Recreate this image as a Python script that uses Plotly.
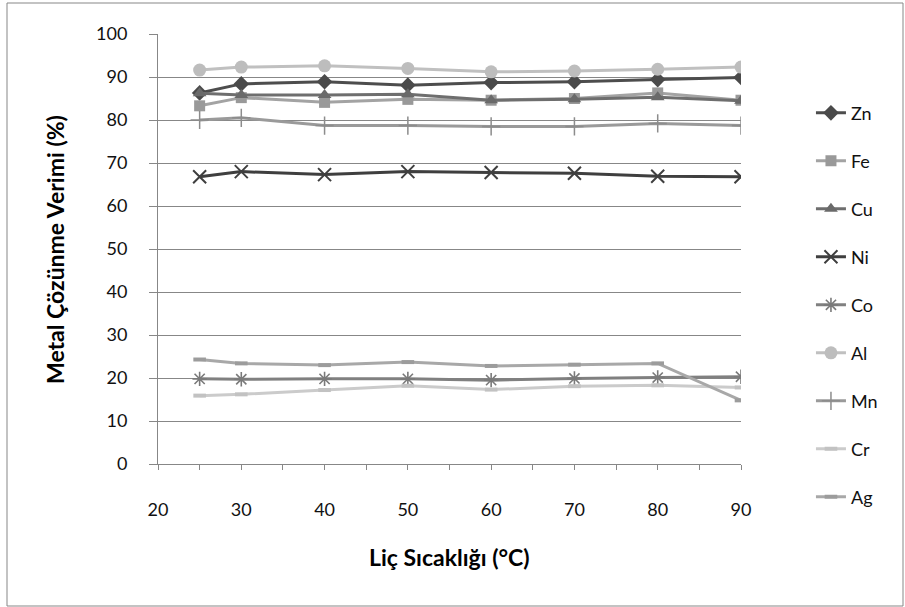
import plotly.graph_objects as go

# Leaching temperature (°C)
temperature = [25, 30, 40, 50, 60, 70, 80, 90]

# Metal dissolution efficiency (%) for each metal
zn = [86.3, 88.4, 88.9, 88.1, 88.7, 88.9, 89.4, 89.9]
fe = [83.3, 85.2, 84.1, 84.8, 84.6, 85.0, 86.3, 84.6]
cu = [86.2, 85.8, 85.8, 86.0, 84.6, 84.8, 85.3, 84.5]
ni = [66.8, 68.0, 67.3, 68.0, 67.8, 67.6, 66.9, 66.8]
co = [19.8, 19.7, 19.8, 19.8, 19.5, 19.9, 20.1, 20.3]
al = [91.6, 92.3, 92.6, 92.0, 91.2, 91.4, 91.8, 92.3]
mn = [80.0, 80.5, 78.7, 78.7, 78.5, 78.5, 79.2, 78.7]
cr = [15.9, 16.2, 17.2, 18.2, 17.3, 18.1, 18.3, 17.8]
ag = [24.3, 23.4, 23.0, 23.7, 22.8, 23.1, 23.4, 14.8]

series = [
    ("Zn", zn, "#4d4d4d", "#4a4a4a", "diamond", 12, 1),
    ("Fe", fe, "#a3a3a3", "#999999", "square", 11, 1),
    ("Cu", cu, "#6e6e6e", "#6a6a6a", "triangle-up", 12, 1),
    ("Ni", ni, "#3f3f3f", "#3f3f3f", "x-thin-open", 13, 2),
    ("Co", co, "#808080", "#7a7a7a", "asterisk-open", 12, 1.6),
    ("Al", al, "#c0c0c0", "#bdbdbd", "circle", 13, 1),
    ("Mn", mn, "#9a9a9a", "#8c8c8c", "cross-thin-open", 13, 1.5),
    ("Cr", cr, "#cbcbcb", "#c2c2c2", "line-ew-open", 9, 4),
    ("Ag", ag, "#a8a8a8", "#9c9c9c", "line-ew-open", 9, 4),
]

fig = go.Figure()
for name, vals, lcol, mcol, sym, msize, mlw in series:
    open_sym = sym.endswith("open")
    fig.add_trace(go.Scatter(
        x=temperature, y=vals, name=name, mode="lines+markers",
        legendgroup=name,
        line=dict(color=lcol, width=3),
        marker=dict(symbol=sym, size=msize, color=mcol,
                    line=dict(color=mcol, width=mlw if open_sym else 0)),
    ))

axis_col = "#878787"
font_family = "Lato, 'Open Sans', sans-serif"

fig.update_layout(
    width=905, height=607, autosize=False,
    margin=dict(l=158, r=164, t=34, b=143, autoexpand=False),
    paper_bgcolor="white", plot_bgcolor="white",
    font=dict(family=font_family, size=18, color="#111111"),
    showlegend=True,
    legend=dict(
        x=1.12, y=0.859, xanchor="left", yanchor="top",
        font=dict(size=18, color="#111111"),
        tracegroupgap=21.6, itemwidth=30,
        bgcolor="rgba(0,0,0,0)",
    ),
    xaxis=dict(
        range=[20, 90], dtick=10, tick0=20,
        showline=True, linecolor=axis_col, linewidth=1,
        ticks="outside", ticklen=5, tickcolor=axis_col,
        minor=dict(ticks="outside", ticklen=5, dtick=5, tickcolor=axis_col),
        showgrid=False, zeroline=False,
        tickfont=dict(size=18), ticklabelstandoff=24,
    ),
    yaxis=dict(
        range=[0, 100], dtick=10,
        showline=True, linecolor=axis_col, linewidth=1,
        ticks="outside", ticklen=8, tickcolor=axis_col,
        showgrid=True, gridcolor=axis_col, gridwidth=1,
        zeroline=False,
        tickfont=dict(size=18), ticklabelstandoff=18,
    ),
    shapes=[
        dict(type="rect", xref="paper", yref="paper",
             x0=(7 - 158) / 583, x1=(903 - 158) / 583,
             y0=(464 - 606) / 430, y1=(464 - 3) / 430,
             line=dict(color=axis_col, width=1), fillcolor="rgba(0,0,0,0)",
             layer="below"),
    ],
    annotations=[
        dict(text="<b>Liç Sıcaklığı (°C)</b>", xref="paper", yref="paper",
             x=0.5, y=(464 - 557) / 430, xanchor="center", yanchor="middle",
             showarrow=False, font=dict(size=23, color="#000000")),
        dict(text="<b>Metal Çözünme Verimi (%)</b>", xref="paper", yref="paper",
             x=(55 - 158) / 583, y=(464 - 250) / 430, xanchor="center", yanchor="middle",
             textangle=-90, showarrow=False, font=dict(size=23, color="#000000")),
    ],
)

fig.write_html("out.html")
